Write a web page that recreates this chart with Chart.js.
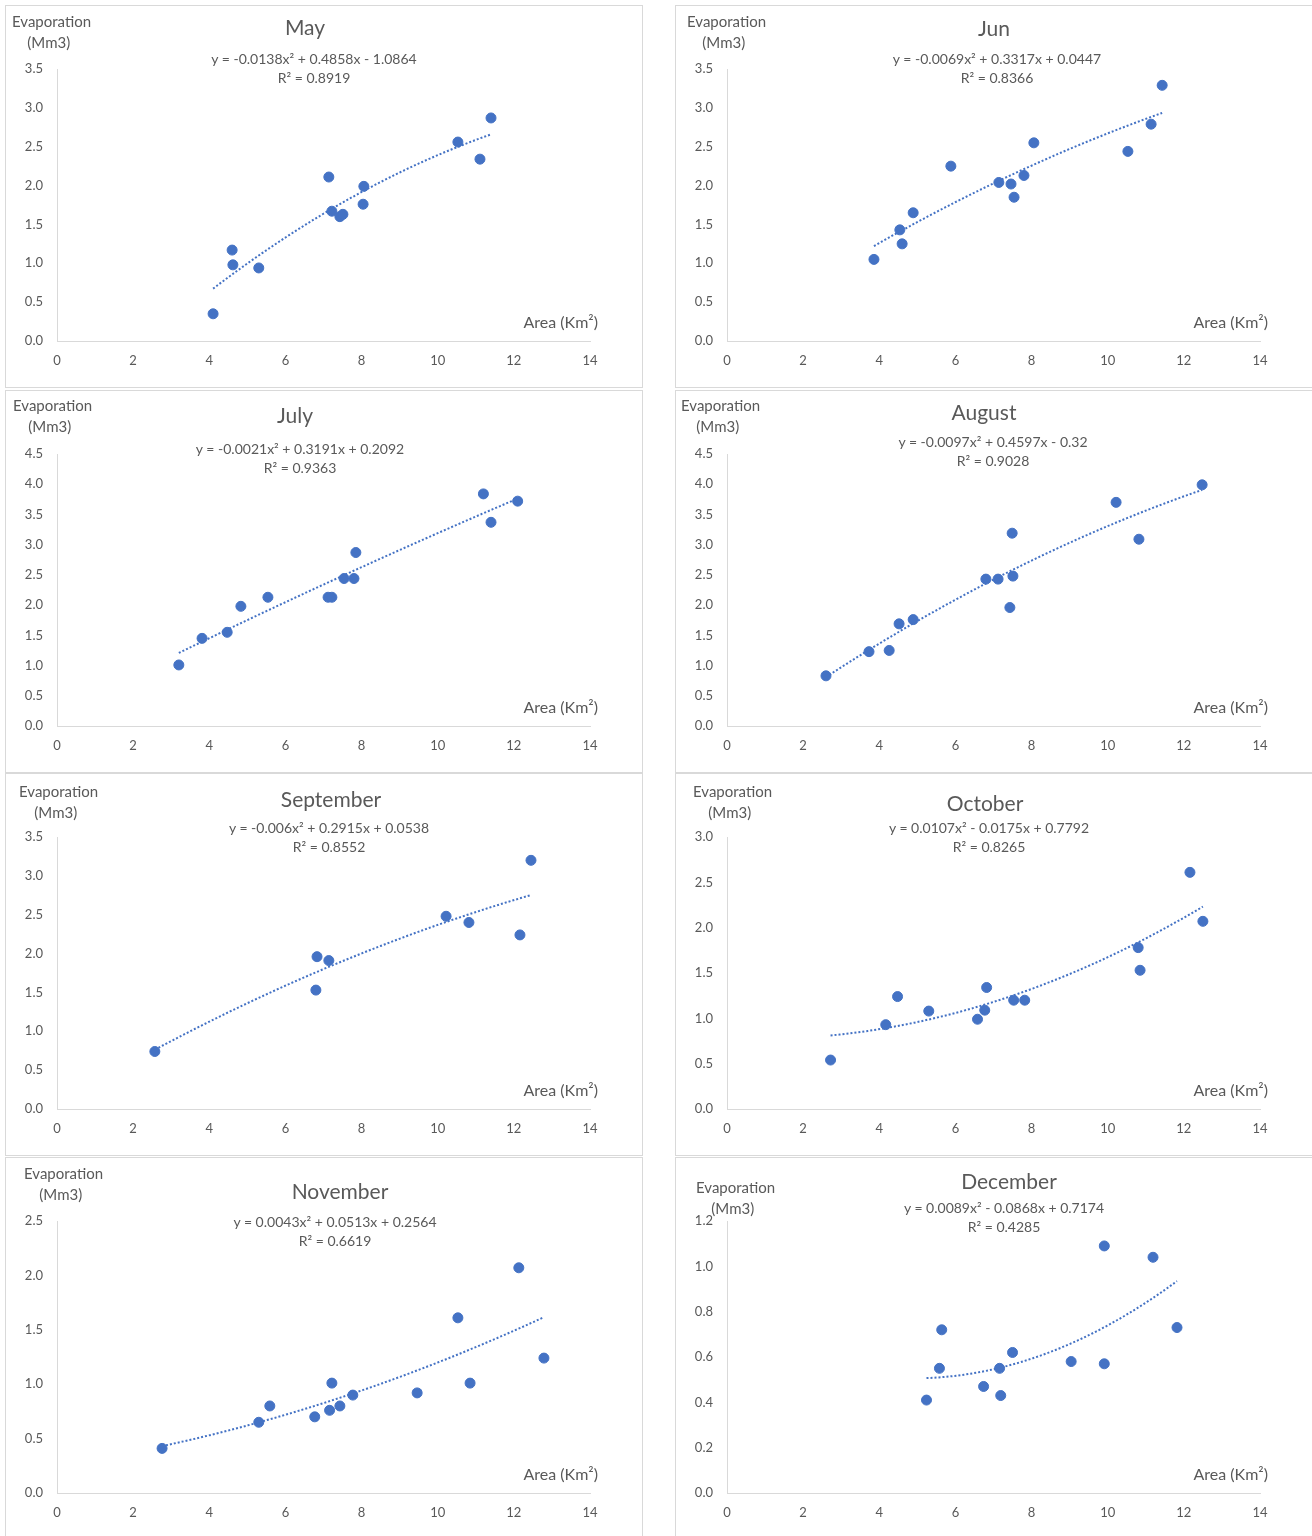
<!DOCTYPE html>
<html>
<head>
<meta charset="utf-8">
<script src="https://cdn.jsdelivr.net/npm/chart.js@4.4.1/dist/chart.umd.min.js"></script>
<style>
  body { margin:0; background:#fff; width:1312px; height:1536px; position:relative; overflow:hidden; font-family: Lato, "Liberation Sans", sans-serif; color:#595959; }
  .panel { position:absolute; width:638px; height:383px; border:1px solid #d9d9d9; box-sizing:border-box; }
  .panel canvas { position:absolute; left:0; top:0; }
  .t { position:absolute; white-space:nowrap; }
  .title { font-size:21px; transform:translateX(-50%); }
  .eq { font-size:14px; line-height:19px; text-align:center; transform:translateX(-50%); }
  .ax { font-size:15px; line-height:21px; }
  .area { font-size:16px; right:44px; top:306px; }
</style>
</head>
<body>
<script>
// months and layout slots
const months = ['May', 'Jun', 'July', 'August', 'September', 'October', 'November', 'December'];
const yMax = [3.5, 3.5, 4.5, 4.5, 3.5, 3.0, 2.5, 1.2];
const yStep = [0.5, 0.5, 0.5, 0.5, 0.5, 0.5, 0.5, 0.2];

// observed points: area (km2) and evaporation (Mm3)
const areaMay = [4.1, 4.6, 4.62, 5.3, 7.14, 7.22, 7.43, 7.51, 8.06, 8.04, 10.53, 11.11, 11.4];
const evapMay = [0.35, 1.17, 0.98, 0.94, 2.11, 1.67, 1.60, 1.63, 1.99, 1.76, 2.56, 2.34, 2.87];
const areaJun = [3.86, 4.54, 4.6, 4.89, 5.88, 7.14, 7.46, 7.54, 7.8, 8.06, 10.53, 11.14, 11.43];
const evapJun = [1.05, 1.43, 1.25, 1.65, 2.25, 2.04, 2.02, 1.85, 2.13, 2.55, 2.44, 2.79, 3.29];
const areaJul = [3.2, 3.81, 4.47, 4.83, 5.54, 7.12, 7.22, 7.54, 7.8, 7.85, 11.2, 11.4, 12.1];
const evapJul = [1.01, 1.45, 1.55, 1.98, 2.13, 2.13, 2.13, 2.44, 2.44, 2.87, 3.84, 3.37, 3.72];
const areaAug = [2.6, 3.73, 4.26, 4.52, 4.89, 6.8, 7.12, 7.51, 7.49, 7.43, 10.22, 10.82, 12.48];
const evapAug = [0.83, 1.23, 1.25, 1.69, 1.76, 2.43, 2.43, 2.48, 3.19, 1.96, 3.70, 3.09, 3.99];
const areaSep = [2.57, 6.8, 6.83, 7.14, 10.22, 10.82, 12.16, 12.45];
const evapSep = [0.74, 1.53, 1.96, 1.91, 2.48, 2.40, 2.24, 3.20];
const areaOct = [2.72, 4.17, 4.48, 5.3, 6.58, 6.77, 6.82, 7.53, 7.82, 10.8, 10.85, 12.16, 12.5];
const evapOct = [0.54, 0.93, 1.24, 1.08, 0.99, 1.09, 1.34, 1.20, 1.20, 1.78, 1.53, 2.61, 2.07];
const areaNov = [2.76, 5.3, 5.59, 6.77, 7.16, 7.22, 7.43, 7.77, 9.46, 10.53, 10.85, 12.13, 12.79];
const evapNov = [0.41, 0.65, 0.80, 0.70, 0.76, 1.01, 0.80, 0.90, 0.92, 1.61, 1.01, 2.07, 1.24];
const areaDec = [5.24, 5.58, 5.64, 6.74, 7.16, 7.19, 7.5, 9.04, 9.91, 9.91, 11.19, 11.82];
const evapDec = [0.41, 0.55, 0.72, 0.47, 0.55, 0.43, 0.62, 0.58, 1.09, 0.57, 1.04, 0.73];

const areas = [areaMay, areaJun, areaJul, areaAug, areaSep, areaOct, areaNov, areaDec];
const evaps = [evapMay, evapJun, evapJul, evapAug, evapSep, evapOct, evapNov, evapDec];

// polynomial trendline coefficients as printed: a x² + b x + c, and R²
const coefA = [-0.0138, -0.0069, -0.0021, -0.0097, -0.006, 0.0107, 0.0043, 0.0089];
const coefB = [0.4858, 0.3317, 0.3191, 0.4597, 0.2915, -0.0175, 0.0513, -0.0868];
const coefC = [-1.0864, 0.0447, 0.2092, -0.32, 0.0538, 0.7792, 0.2564, 0.7174];
const rSq = ['0.8919', '0.8366', '0.9363', '0.9028', '0.8552', '0.8265', '0.6619', '0.4285'];
const eqText = [
  'y = -0.0138x² + 0.4858x - 1.0864', 'y = -0.0069x² + 0.3317x + 0.0447',
  'y = -0.0021x² + 0.3191x + 0.2092', 'y = -0.0097x² + 0.4597x - 0.32',
  'y = -0.006x² + 0.2915x + 0.0538', 'y = 0.0107x² - 0.0175x + 0.7792',
  'y = 0.0043x² + 0.0513x + 0.2564', 'y = 0.0089x² - 0.0868x + 0.7174'
];

// panel placement and text offsets
const panelLeft = [5, 675];
const panelTop = [5, 390, 773, 1157];
const titlePos = [[299,8],[318,9],[289,11],[308,8],[325,12],[309,16],[334,20],[333,10]];
const eqPos = [[308,43],[321,43],[294,48],[317,41],[323,44],[313,44],[329,54],[328,40]];
const axPos = [[6,5],[11,5],[7,4],[5,4],[13,7],[17,7],[18,5],[20,19]];

const blue = '#4472C4';

months.forEach((m, i) => {
  const p = document.createElement('div');
  p.className = 'panel';
  p.style.left = panelLeft[i % 2] + 'px';
  p.style.top = panelTop[Math.floor(i / 2)] + 'px';
  document.body.appendChild(p);
  const cv = document.createElement('canvas');
  cv.width = 638; cv.height = 383;
  cv.style.width = '638px'; cv.style.height = '383px';
  p.appendChild(cv);

  const add = (cls, html, x, y) => {
    const d = document.createElement('div');
    d.className = 't ' + cls; d.innerHTML = html;
    if (x != null) d.style.left = x + 'px';
    if (y != null) d.style.top = y + 'px';
    p.appendChild(d);
  };
  add('title', m, titlePos[i][0], titlePos[i][1]);
  add('eq', eqText[i] + '<br>R² = ' + rSq[i], eqPos[i][0], eqPos[i][1]);
  add('ax', 'Evaporation<br>&nbsp;&nbsp;&nbsp;&nbsp;(Mm3)', axPos[i][0], axPos[i][1]);
  add('area', 'Area (Km²)');

  const xs = areas[i];
  const pts = xs.map((x, k) => ({ x: x, y: evaps[i][k] }));
  const lo = Math.min(...xs), hi = Math.max(...xs);
  const trend = [];
  for (let k = 0; k <= 40; k++) {
    const x = lo + (hi - lo) * k / 40;
    trend.push({ x: x, y: coefA[i] * x * x + coefB[i] * x + coefC[i] });
  }

  new Chart(cv, {
    type: 'scatter',
    data: {
      datasets: [
        { data: pts, backgroundColor: blue, borderColor: blue, pointRadius: 5, pointHoverRadius: 5 },
        { type: 'line', data: trend, borderColor: blue, borderWidth: 2, borderDash: [2, 2], pointRadius: 0, fill: false, tension: 0 }
      ]
    },
    options: {
      responsive: false, animation: false,
      layout: { padding: { left: 0, right: 54, top: 63, bottom: 0 } },
      plugins: { legend: { display: false }, tooltip: { enabled: false } },
      scales: {
        x: {
          type: 'linear', min: 0, max: 14,
          ticks: { stepSize: 2, color: '#595959', font: { family: 'Lato', size: 13 }, padding: 12, maxRotation: 0 },
          grid: { color: 'rgba(0,0,0,0)', drawTicks: false },
          border: { display: true, color: '#d9d9d9' },
          afterFit: s => { s.height = 48; }
        },
        y: {
          min: 0, max: yMax[i],
          ticks: { stepSize: yStep[i], color: '#595959', font: { family: 'Lato', size: 13 }, padding: 14, callback: v => v.toFixed(1) },
          grid: { color: 'rgba(0,0,0,0)', drawTicks: false },
          border: { display: true, color: '#d9d9d9' },
          afterFit: s => { s.width = 51; }
        }
      }
    }
  });
});
</script>
</body>
</html>
